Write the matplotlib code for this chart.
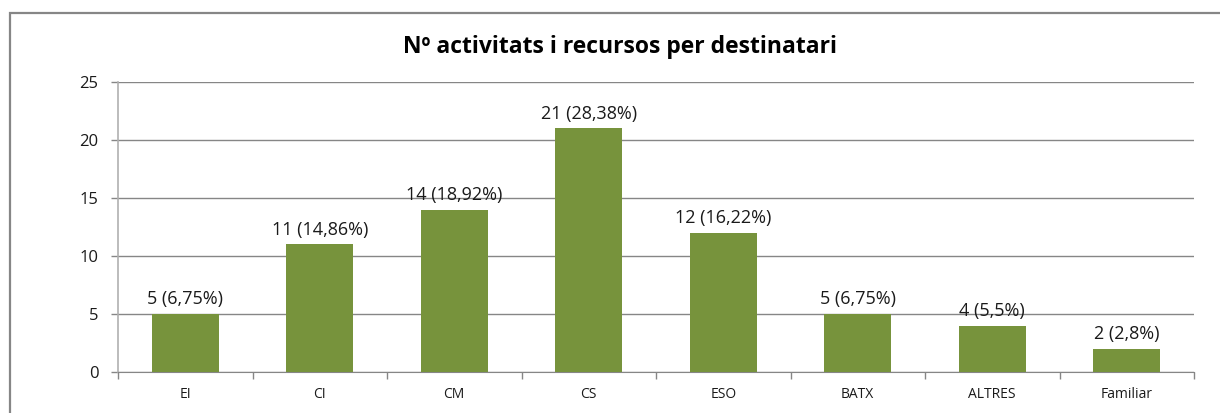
import matplotlib
matplotlib.use("Agg")
import matplotlib.pyplot as plt
from matplotlib.patches import Rectangle
import numpy as np

categories = ["EI", "CI", "CM", "CS", "ESO", "BATX", "ALTRES", "Familiar"]
values = [5, 11, 14, 21, 12, 5, 4, 2]
labels = ["5 (6,75%)", "11 (14,86%)", "14 (18,92%)", "21 (28,38%)", "12 (16,22%)",
          "5 (6,75%)", "4 (5,5%)", "2 (2,8%)"]
yticks = [0, 5, 10, 15, 20, 25]
title = "Nº activitats i recursos per destinatari"

plt.rcParams['font.family'] = ['Open Sans', 'DejaVu Sans']

fig = plt.figure(figsize=(12.2, 4.13), dpi=100)
fig.patches.append(Rectangle((10/1220, -0.1), 1.2, 1 - 13/413 + 0.1, transform=fig.transFigure,
                             fill=False, edgecolor="#868686", linewidth=1.6))
ax = fig.add_axes([118/1220, 1 - 372/413, (1194 - 118)/1220, (372 - 82)/413])

x = np.arange(len(categories))
ax.bar(x, values, width=0.5, color="#77933C", zorder=3)
for xi, v, lab in zip(x, values, labels):
    ax.text(xi, v + 0.5, lab, ha="center", va="bottom", fontsize=13, color="#1a1a1a")

ax.set_xlim(-0.5, len(categories) - 0.5)
ax.set_ylim(0, 25)
ax.set_yticks(yticks)
ax.yaxis.grid(True, color="#868686", linewidth=1.0, zorder=0)
ax.set_xticks(x)
ax.set_xticklabels(categories, fontsize=10, color="#1a1a1a")
ax.set_xticks(np.arange(-0.5, len(categories)), minor=True)
ax.tick_params(axis="x", which="major", length=0, pad=11)
ax.tick_params(axis="x", which="minor", length=5, color="#868686", width=1)
ax.tick_params(axis="y", length=5, color="#868686", width=1, labelsize=12, labelcolor="#1a1a1a", pad=9)
for s in ["top", "right"]:
    ax.spines[s].set_visible(False)
ax.spines["left"].set_color("#b0b0b0")
ax.spines["bottom"].set_color("#868686")
ax.spines["left"].set_linewidth(1.2)

fig.text(620/1220, 1 - 47/413, title, ha="center", va="center", fontsize=16.5, fontweight="bold", color="#000000")

fig.savefig("out.png", dpi=100)
